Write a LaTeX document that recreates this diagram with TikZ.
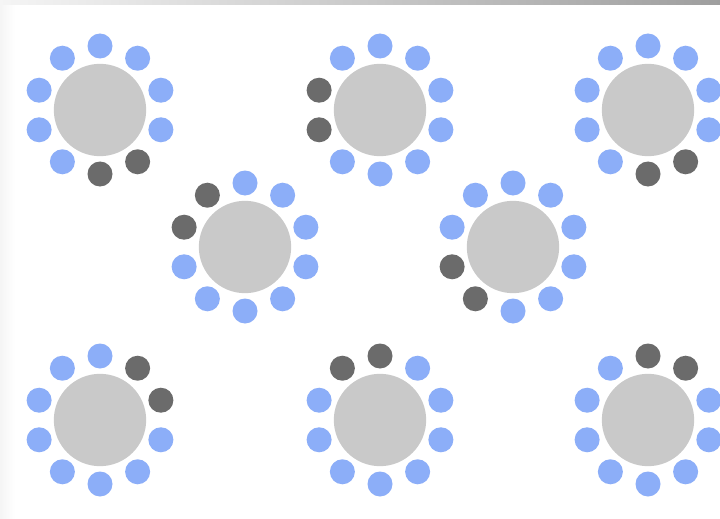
\documentclass[tikz,border=0pt]{standalone}
\usepackage{tikz}
\usetikzlibrary{positioning}
\definecolor{TableGrey}{HTML}{C9C9C9}
\definecolor{SeatBlue}{HTML}{8CAEF8}
\definecolor{SeatDark}{HTML}{6B6B6B}
\begin{document}
\begin{tikzpicture}[
        x=0.03cm, y=0.03cm,
        table/.style={circle, fill=TableGrey, inner sep=0pt, minimum size=2.77cm},
        seat/.style={circle, fill=SeatBlue, inner sep=0pt, minimum size=0.75cm},
        taken/.style={seat, fill=SeatDark},
      ]
        \useasboundingbox (0,0) rectangle (720,518);
        % page edges
        \fill[white] (0,0) rectangle (720,518);
        \shade[left color=black!4, right color=white] (0,0) rectangle (15,513);
        \shade[left color=black!4, middle color=black!14, right color=black!38] (0,513) rectangle (720,518);
        % tables, each with ten seats (two of them taken)
        \foreach \name/\cx/\cy/\da/\db in {
            t1/100/408/270/306, t2/380/408/162/198, t3/648/408/270/306,
            t4/245/271/126/162, t5/513/271/198/234,
            t6/100/98/54/18,    t7/380/98/126/90,   t8/648/98/90/54} {
          \node[table] (\name) at (\cx,\cy) {};
          \foreach \k in {0,...,9} {
            \pgfmathtruncatemacro\ang{mod(90+36*\k,360)}
            \def\seatstyle{seat}
            \ifnum\ang=\da \def\seatstyle{taken}\fi
            \ifnum\ang=\db \def\seatstyle{taken}\fi
            \path (\name.center) ++(\ang:64) node[\seatstyle] (\name-s\k) {};
          }
        }
      \end{tikzpicture}
\end{document}
